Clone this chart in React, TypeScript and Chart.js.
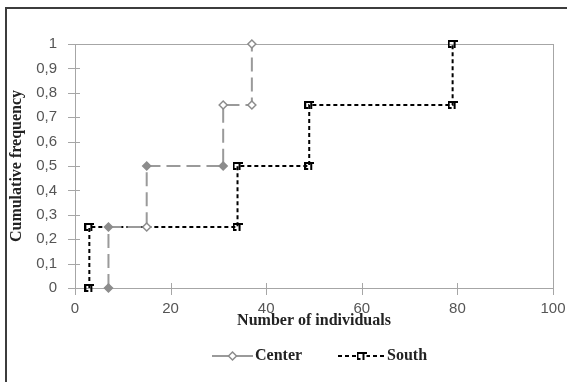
import React, { useEffect, useRef } from "react";
import { Chart, registerables } from "chart.js";

Chart.register(...registerables);

const centerLabel = "Center";
const southLabel = "South";
const centerX = [7, 7, 15, 15, 31, 31, 37, 37];
const centerY = [0, 0.25, 0.25, 0.5, 0.5, 0.75, 0.75, 1];
const centerFill = ["#8c8c8c", "#8c8c8c", "#ffffff", "#8c8c8c", "#8c8c8c", "#ffffff", "#ffffff", "#ffffff"];
const southX = [3, 3, 34, 34, 49, 49, 79, 79];
const southY = [0, 0.25, 0.25, 0.5, 0.5, 0.75, 0.75, 1];
const xTitle = "Number of individuals";
const yTitle = "Cumulative frequency";

function makeGlyph(): HTMLCanvasElement {
  const c = document.createElement("canvas");
  c.width = 10;
  c.height = 10;
  const g = c.getContext("2d")!;
  g.fillStyle = "#000";
  g.fillRect(0, 1, 10, 2);
  g.fillRect(0, 1, 2, 7);
  g.fillRect(0, 7, 4, 2);
  g.fillRect(6, 1, 2, 8);
  return c;
}

const framePlugin = {
  id: "framePlugin",
  beforeDatasetsDraw(chart: any) {
    const { ctx, chartArea: a, scales } = chart;
    const x = scales.x;
    const y = scales.y;
    ctx.save();
    ctx.strokeStyle = "#a6a6a6";
    ctx.lineWidth = 1;
    ctx.strokeRect(Math.round(a.left) + 0.5, Math.round(a.top) + 0.5, Math.round(a.right - a.left), Math.round(a.bottom - a.top));
    ctx.beginPath();
    x.ticks.forEach((t: any) => {
      const px = Math.round(x.getPixelForValue(t.value)) + 0.5;
      ctx.moveTo(px, a.bottom - 5);
      ctx.lineTo(px, a.bottom + 7);
    });
    y.ticks.forEach((t: any) => {
      const py = Math.round(y.getPixelForValue(t.value)) + 0.5;
      ctx.moveTo(a.left - 7, py);
      ctx.lineTo(a.left + 5, py);
    });
    ctx.stroke();
    ctx.restore();
  },
};

const legendPlugin = {
  id: "legendPlugin",
  afterDraw(chart: any) {
    const { ctx } = chart;
    const items = [
      { ds: chart.data.datasets[0], x0: 212, x1: 253, tx: 255 },
      { ds: chart.data.datasets[1], x0: 338, x1: 385, tx: 387 },
    ];
    const yy = 356;
    ctx.save();
    items.forEach((it, i) => {
      ctx.strokeStyle = it.ds.borderColor;
      ctx.lineWidth = 2;
      ctx.setLineDash(i === 0 ? [] : it.ds.borderDash);
      ctx.beginPath();
      ctx.moveTo(it.x0, yy);
      ctx.lineTo(it.x1, yy);
      ctx.stroke();
      ctx.setLineDash([]);
      const mx = (it.x0 + it.x1) / 2;
      if (i === 0) {
        ctx.fillStyle = "#ffffff";
        ctx.strokeStyle = "#8c8c8c";
        ctx.lineWidth = 1.5;
        ctx.beginPath();
        ctx.moveTo(mx, yy - 4);
        ctx.lineTo(mx + 4, yy);
        ctx.lineTo(mx, yy + 4);
        ctx.lineTo(mx - 4, yy);
        ctx.closePath();
        ctx.fill();
        ctx.stroke();
      } else {
        const g = it.ds.pointStyle;
        ctx.fillStyle = "#fff";
        ctx.fillRect(mx - 5, yy - 5, 10, 10);
        ctx.drawImage(g, mx - 5, yy - 5);
      }
      ctx.fillStyle = "#222";
      ctx.font = "bold 16px 'Liberation Serif', 'Times New Roman', serif";
      ctx.textBaseline = "middle";
      ctx.textAlign = "left";
      ctx.fillText(it.ds.label, it.tx, yy);
    });
    ctx.restore();
  },
};

export default function App() {
  const ref = useRef<HTMLCanvasElement>(null);
  useEffect(() => {
    const glyph = makeGlyph();
    const chart = new Chart(ref.current!, {
      type: "line",
      data: {
        datasets: [
          {
            label: centerLabel,
            data: centerX.map((v, i) => ({ x: v, y: centerY[i] })),
            borderColor: "#9a9a9a",
            borderWidth: 2,
            borderDash: [14, 6],
            pointStyle: "rectRot",
            pointRadius: 4,
            pointBorderWidth: 1.5,
            pointBorderColor: "#8c8c8c",
            pointBackgroundColor: centerFill,
            clip: false,
            tension: 0,
          } as any,
          {
            label: southLabel,
            data: southX.map((v, i) => ({ x: v, y: southY[i] })),
            borderColor: "#000000",
            borderWidth: 2,
            borderDash: [4, 3],
            pointStyle: glyph,
            pointRadius: 5,
            clip: false,
            tension: 0,
          } as any,
        ],
      },
      options: {
        animation: false,
        responsive: false,
        maintainAspectRatio: false,
        layout: { padding: { top: 44, right: 14, left: 0, bottom: 0 } },
        plugins: { legend: { display: false }, tooltip: { enabled: false } },
        scales: {
          x: {
            type: "linear",
            min: 0,
            max: 100,
            ticks: {
              stepSize: 20,
              padding: 12,
              color: "#555",
              font: { family: "'Liberation Sans', Arial, sans-serif", size: 15 },
            },
            grid: { display: false, drawTicks: false },
            border: { display: false },
            title: {
              display: true,
              text: xTitle,
              color: "#222",
              font: { family: "'Liberation Serif', 'Times New Roman', serif", size: 16, weight: "bold" },
              padding: { top: 0, bottom: 52 },
            },
            afterFit(scale: any) {
              scale.height = 94;
              scale.paddingLeft = 0;
              scale.paddingRight = 0;
            },
          },
          y: {
            type: "linear",
            min: 0,
            max: 1,
            ticks: {
              stepSize: 0.1,
              padding: 18,
              color: "#555",
              font: { family: "'Liberation Sans', Arial, sans-serif", size: 15 },
              callback: (v: any) => String(Number(Number(v).toFixed(1))).replace(".", ","),
            },
            grid: { display: false, drawTicks: false },
            border: { display: false },
            title: {
              display: true,
              text: yTitle,
              color: "#222",
              font: { family: "'Liberation Serif', 'Times New Roman', serif", size: 16, weight: "bold" },
              padding: { top: 7, bottom: 0 },
            },
            afterFit(scale: any) {
              scale.width = 75;
              scale.paddingTop = 0;
              scale.paddingBottom = 0;
            },
          },
        },
      },
      plugins: [framePlugin, legendPlugin],
    });
    return () => chart.destroy();
  }, []);
  return (
    <div style={{ position: "fixed", left: 0, top: 0, width: 567, height: 382, overflow: "hidden", background: "#fff" }}>
      <div
        style={{
          position: "absolute",
          left: 5,
          top: 7,
          width: 700,
          height: 500,
          borderTop: "2px solid #3c3c3c",
          borderLeft: "2px solid #3c3c3c",
        }}
      />
      <canvas ref={ref} width={567} height={382} style={{ position: "absolute", left: 0, top: 0 }} />
    </div>
  );
}
